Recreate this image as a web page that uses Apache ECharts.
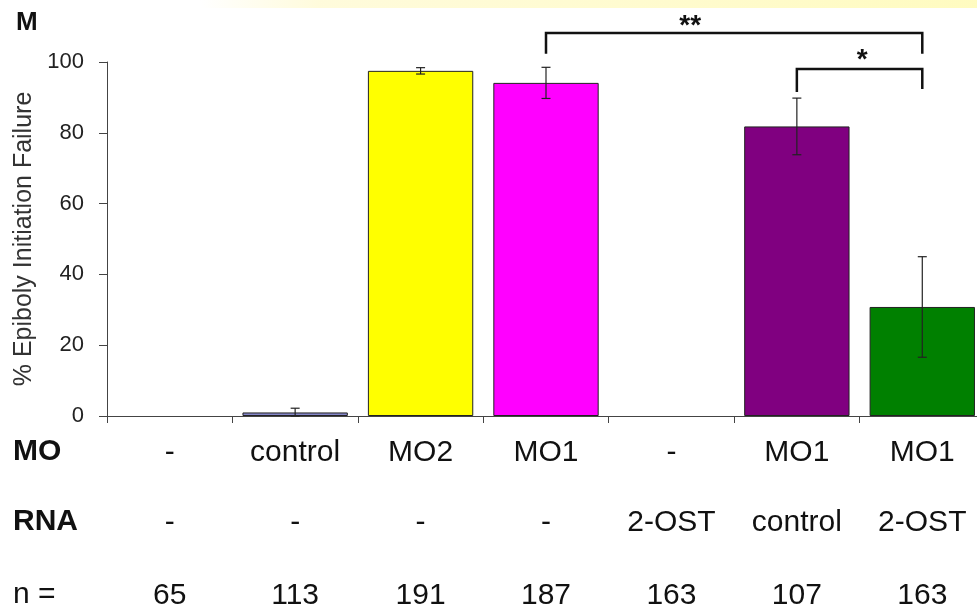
<!DOCTYPE html>
<html>
<head>
<meta charset="utf-8">
<script src="https://cdn.jsdelivr.net/npm/echarts@6/dist/echarts.min.js"></script>
<style>
html,body{margin:0;padding:0;background:#fff;overflow:hidden;}
#chart{width:995px;height:611px;}
</style>
</head>
<body>
<div id="chart"></div>
<script>
// ---- data ----
var moLabels = ['-', 'control', 'MO2', 'MO1', '-', 'MO1', 'MO1'];
var rnaLabels = ['-', '-', '-', '-', '2-OST', 'control', '2-OST'];
var nValues = ['65', '113', '191', '187', '163', '107', '163'];
var categories = moLabels.map(function (m, i) { return m + ' / ' + rnaLabels[i]; });
var meanValues = [0, 1.0, 97.5, 94.1, 0, 81.8, 30.8];
var errorValues = [0, 1.2, 0.9, 4.4, 0, 8.0, 14.2];
var barColors = ['#8888cc', '#8486c8', '#ffff00', '#ff00ff', '#8888cc', '#800080', '#008000'];
var yTicks = [0, 20, 40, 60, 80, 100];
// significance brackets (category index, y value)
var bracketFrom = [3, 5];
var bracketTo = [6, 6];
var bracketTop = [108.2, 98.0];
var bracketLeftEnd = [102.3, 91.5];
var bracketRightEnd = [102.3, 92.4];
var bracketLabels = ['**', '*'];
var bracketLabelPos = [4.15, 5.52];
var bracketLabelY = [110.2, 100.4];

var FONT = '"Liberation Sans", Arial, Helvetica, sans-serif';

var chart = echarts.init(document.getElementById('chart'), null, { renderer: 'canvas' });

function rowAxis(data, offset) {
  return {
    type: 'category',
    gridIndex: 0,
    position: 'bottom',
    offset: offset,
    data: data,
    axisLine: { show: false },
    axisTick: { show: false },
    splitLine: { show: false },
    axisLabel: {
      interval: 0,
      margin: 0,
      verticalAlign: 'middle',
      fontFamily: FONT,
      fontSize: 30,
      color: '#111'
    }
  };
}

function rowHeader(text, y, bold) {
  return {
    type: 'text', x: 13, y: y,
    style: {
      text: text,
      font: (bold ? 'bold ' : '') + '30px ' + FONT,
      fill: '#111',
      textAlign: 'left',
      textVerticalAlign: 'middle'
    }
  };
}

var option = {
  backgroundColor: '#ffffff',
  animation: false,
  grid: { left: 107, top: 62, width: 878, height: 355, containLabel: false },
  graphic: [
    {
      type: 'rect', x: 200, y: 0, z: -10,
      shape: { width: 795, height: 8 },
      style: {
        fill: new echarts.graphic.LinearGradient(0, 0, 1, 0, [
          { offset: 0, color: 'rgba(255,248,190,0)' },
          { offset: 0.15, color: 'rgba(255,248,190,0.55)' },
          { offset: 1, color: 'rgba(255,250,170,0.75)' }
        ])
      }
    },
    {
      type: 'text', x: 16, y: 23,
      style: { text: 'M', font: 'bold 26px ' + FONT, fill: '#111', textVerticalAlign: 'middle' }
    },
    rowHeader('MO', 452, true),
    rowHeader('RNA', 522, true),
    rowHeader('n =', 595, false)
  ],
  xAxis: [
    {
      type: 'category',
      data: categories,
      axisLine: { show: true, lineStyle: { color: '#444', width: 1 } },
      axisTick: { show: true, alignWithLabel: false, length: 7, lineStyle: { color: '#444' } },
      axisLabel: { show: false },
      splitLine: { show: false }
    },
    rowAxis(moLabels, 36.5),
    rowAxis(rnaLabels, 106.5),
    rowAxis(nValues, 180)
  ],
  yAxis: {
    type: 'value',
    min: yTicks[0],
    max: yTicks[yTicks.length - 1],
    interval: 20,
    name: '% Epiboly Initiation Failure',
    nameLocation: 'middle',
    nameGap: 70,
    nameTextStyle: { fontFamily: FONT, fontSize: 25, color: '#333' },
    axisLine: { show: true, lineStyle: { color: '#444', width: 1 } },
    axisTick: { show: true, length: 8, lineStyle: { color: '#444' } },
    axisLabel: { margin: 23, fontFamily: FONT, fontSize: 22, color: '#222' },
    splitLine: { show: false }
  },
  series: [
    {
      type: 'bar',
      xAxisIndex: 0,
      barCategoryGap: '16%',
      data: meanValues.map(function (v, i) {
        return { value: v, itemStyle: { color: barColors[i], borderWidth: v > 0 ? 1 : 0 } };
      }),
      itemStyle: { borderColor: '#222', borderWidth: 1 },
      z: 2
    },
    {
      type: 'custom',
      xAxisIndex: 0,
      z: 5,
      data: meanValues.map(function (v, i) { return [i, v, errorValues[i]]; }),
      encode: { x: 0, y: 1 },
      renderItem: function (params, api) {
        var idx = api.value(0), m = api.value(1), e = api.value(2);
        if (!(e > 0)) return null;
        var hi = api.coord([idx, m + e]);
        var lo = api.coord([idx, Math.max(0, m - e)]);
        var w = 4.5;
        var style = { stroke: '#222', lineWidth: 1.2, fill: null };
        return {
          type: 'group',
          children: [
            { type: 'line', shape: { x1: hi[0], y1: hi[1], x2: lo[0], y2: lo[1] }, style: style },
            { type: 'line', shape: { x1: hi[0] - w, y1: hi[1], x2: hi[0] + w, y2: hi[1] }, style: style },
            { type: 'line', shape: { x1: lo[0] - w, y1: lo[1], x2: lo[0] + w, y2: lo[1] }, style: style }
          ]
        };
      }
    },
    {
      type: 'custom',
      xAxisIndex: 0,
      z: 6,
      clip: false,
      data: bracketFrom.map(function (f, i) {
        return [f, bracketTop[i], bracketTo[i], bracketLeftEnd[i], bracketRightEnd[i], bracketLabelPos[i], bracketLabelY[i], i];
      }),
      encode: { x: 0, y: 1 },
      renderItem: function (params, api) {
        var f = api.value(0), top = api.value(1), t = api.value(2);
        var le = api.value(3), re = api.value(4), lp = api.value(5), ly = api.value(6), k = api.value(7);
        var p1 = api.coord([f, le]), p2 = api.coord([f, top]);
        var p3 = api.coord([t, top]), p4 = api.coord([t, re]);
        var a = api.coord([Math.floor(lp), ly]);
        var b = api.coord([Math.floor(lp) + 1, ly]);
        var fr = lp - Math.floor(lp);
        var lx = a[0] + (b[0] - a[0]) * fr;
        return {
          type: 'group',
          children: [
            {
              type: 'polyline',
              shape: { points: [p1, p2, p3, p4] },
              style: { stroke: '#111', lineWidth: 2.5, fill: null, lineJoin: 'miter' }
            },
            {
              type: 'text',
              x: lx, y: a[1],
              style: {
                text: bracketLabels[k],
                font: 'bold 28px ' + FONT,
                fill: '#111',
                textAlign: 'center',
                textVerticalAlign: 'middle'
              }
            }
          ]
        };
      }
    }
  ]
};

chart.setOption(option);
</script>
</body>
</html>
